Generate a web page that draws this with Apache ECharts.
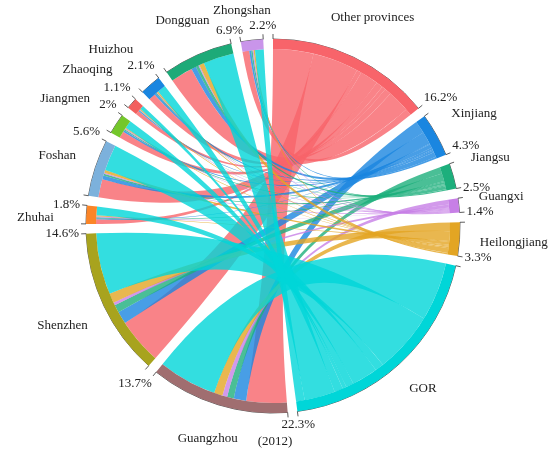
<!DOCTYPE html>
<html>
<head>
<meta charset="utf-8">
<script src="https://cdn.jsdelivr.net/npm/echarts@6.0.0/dist/echarts.min.js"></script>
<style>
html,body{margin:0;padding:0;background:#fff;}
#main{width:550px;height:459px;}
</style>
</head>
<body>
<div id="main"></div>
<script>
/****
 * 2012 flows: sources (provinces + GOR) -> PRD cities
 */
var nodeNames = ['Other provinces','Xinjiang','Jiangsu','Guangxi','Heilongjiang','GOR',
                 'Guangzhou','Shenzhen','Zhuhai','Foshan','Jiangmen','Zhaoqing','Huizhou','Dongguan','Zhongshan'];
var nodeColors = ['#F8646A','#1A86E0','#1DAF7C','#C77FE6','#E3A523','#00D6D8',
                  '#A06E70','#A8A31E','#FB8527','#7CB1DC','#74C72B','#F2605E','#1A86E0','#1DAA78','#C995EA'];
var nodePct = [16.2, 4.3, 2.5, 1.4, 3.3, 22.3, 13.7, 14.6, 1.8, 5.6, 2, 1.1, 2.1, 6.9, 2.2];

var sourceNames = ['Other provinces','Xinjiang','Jiangsu','Guangxi','Heilongjiang','GOR'];
var targetNames = ['Guangzhou','Shenzhen','Zhuhai','Foshan','Jiangmen','Zhaoqing','Huizhou','Dongguan','Zhongshan'];
// one row per source, columns follow targetNames
var flowOther        = [4.2, 4.8, 0.5, 1.9, 0.7, 0.4, 0.7, 2.3, 0.7];
var flowXinjiang     = [1.3, 1.3, 0.1, 0.4, 0.2, 0.1, 0.2, 0.5, 0.2];
var flowJiangsu      = [0.7, 0.8, 0.1, 0.2, 0.1, 0.05, 0.1, 0.3, 0.15];
var flowGuangxi      = [0.5, 0.3, 0.1, 0.1, 0.1, 0.05, 0.05, 0.1, 0.1];
var flowHeilongjiang = [0.9, 1.0, 0.1, 0.3, 0.1, 0.1, 0.15, 0.5, 0.15];
var flowGOR          = [6.1, 6.4, 0.9, 2.7, 0.8, 0.4, 0.9, 3.2, 0.9];
var flows = [flowOther, flowXinjiang, flowJiangsu, flowGuangxi, flowHeilongjiang, flowGOR];

var FONT = 'Liberation Serif';
var chart = echarts.init(document.getElementById('main'));

function buildNodes(){
	var arr = [];
	for (var i = 0; i < nodeNames.length; i++) {
		arr.push({ name: nodeNames[i], itemStyle: { color: nodeColors[i] } });
	}
	return arr;
}

function buildLinks(){
	var arr = [];
	for (var s = 0; s < sourceNames.length; s++) {
		for (var t = 0; t < targetNames.length; t++) {
			arr.push({ source: sourceNames[s], target: targetNames[t], value: flows[s][t] });
		}
	}
	return arr;
}

var CX = 273, CY = 226, R0 = 177, R1 = 187, PAD = 3;

var option = {
	animation: false,
	title: {
		text: '(2012)',
		left: 'center',
		bottom: 6,
		textStyle: { fontFamily: FONT, fontSize: 13, fontWeight: 'normal', color: '#222' }
	},
	series: [{
		type: 'chord',
		center: [CX, CY],
		radius: [R0, R1],
		startAngle: 90,
		clockwise: true,
		padAngle: PAD,
		data: buildNodes(),
		links: buildLinks(),
		itemStyle: { borderWidth: 0, borderRadius: 0 },
		lineStyle: { color: 'source', opacity: 0.8 },
		label: { show: false },
		emphasis: { disabled: true }
	}]
};
chart.setOption(option);

/****
 * 文字宽度
 */
var measureCtx = document.createElement('canvas').getContext('2d');
function textWidth(str){
	measureCtx.font = '13px "' + FONT + '"';
	return measureCtx.measureText(str).width;
}

/****
 * 节点外框、端点刻度、名称与百分比
 */
function addDecorations(){
	var layouts = [];
	try {
		var data = chart.getModel().getSeriesByIndex(0).getData();
		for (var i = 0; i < nodeNames.length; i++) {
			layouts.push(data.getItemLayout(i));
		}
	} catch (e) { layouts = []; }
	var ok = layouts.length === nodeNames.length && layouts[0] && layouts[0].endAngle != null;
	var total = 0;
	for (var k = 0; k < nodePct.length; k++) total += nodePct[k];
	var avail = (360 - PAD * nodeNames.length) * Math.PI / 180;
	var ang = -Math.PI / 2;
	var items = [];
	for (var j = 0; j < nodeNames.length; j++) {
		var startA, endA;
		if (ok) {
			startA = layouts[j].startAngle;
			endA = layouts[j].endAngle;
		} else {
			startA = ang;
			endA = ang + nodePct[j] / total * avail;
			ang = endA + PAD * Math.PI / 180;
		}
		var cx = ok && layouts[j].cx != null ? layouts[j].cx : CX;
		var cy = ok && layouts[j].cy != null ? layouts[j].cy : CY;
		// outer edge line
		items.push({
			type: 'arc',
			shape: { cx: cx, cy: cy, r: R1, startAngle: startA, endAngle: endA, clockwise: true },
			style: { stroke: '#333', lineWidth: 0.8, fill: null }
		});
		// end ticks
		[startA, endA].forEach(function(a){
			items.push({
				type: 'line',
				shape: {
					x1: cx + R1 * Math.cos(a), y1: cy + R1 * Math.sin(a),
					x2: cx + (R1 + 5) * Math.cos(a), y2: cy + (R1 + 5) * Math.sin(a)
				},
				style: { stroke: '#333', lineWidth: 0.8 }
			});
		});
		// percentage at the clockwise end
		var rr = R1 + 7;
		var c = Math.cos(endA), s = Math.sin(endA);
		items.push({
			type: 'text',
			x: cx + rr * c,
			y: cy + rr * s,
			style: {
				text: nodePct[j] + '%',
				fontFamily: FONT,
				fontSize: 13,
				fill: '#222',
				align: c > 0.35 ? 'left' : (c < -0.35 ? 'right' : 'center'),
				verticalAlign: s > 0.35 ? 'top' : (s < -0.35 ? 'bottom' : 'middle')
			}
		});
		// node name outside the arc; small arcs lean toward their start
		var span = Math.abs(endA - startA);
		var midA = (startA + endA) / 2;
		var small = span < 10 * Math.PI / 180;
		if (small) midA = midA + (startA - midA) * 0.5;
		var mc = Math.cos(midA), ms = Math.sin(midA);
		var w = textWidth(nodeNames[j]);
		var gap = (small && mc < -0.3) ? 32 : 20;
		var rn = R1 + gap + w / 2 * Math.abs(mc) + 7 * Math.abs(ms);
		items.push({
			type: 'text',
			x: cx + rn * mc,
			y: cy + rn * ms,
			style: {
				text: nodeNames[j],
				fontFamily: FONT,
				fontSize: 13,
				fill: '#222',
				align: 'center',
				verticalAlign: 'middle'
			}
		});
	}
	chart.setOption({ graphic: items });
}
addDecorations();
</script>
</body>
</html>
